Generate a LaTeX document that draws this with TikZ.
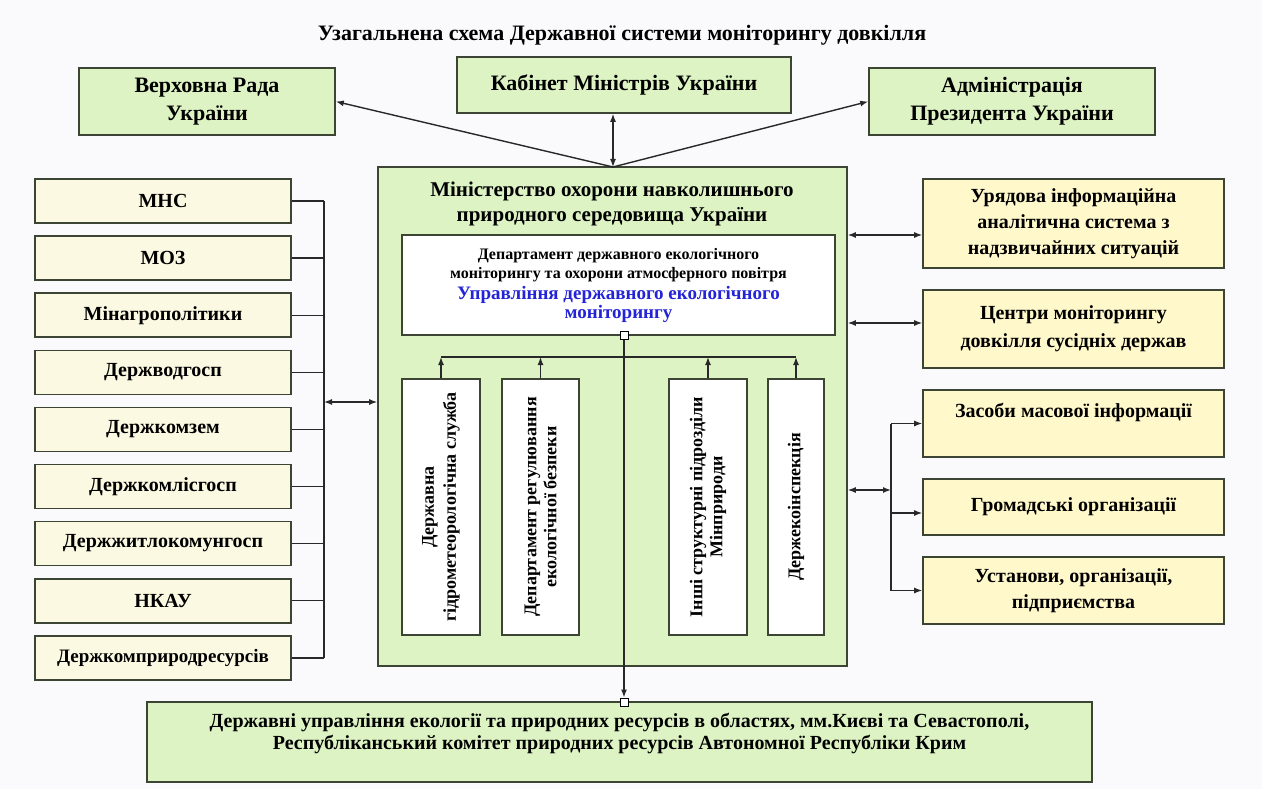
\documentclass[tikz,border=0pt]{standalone}
\usepackage{fontspec}
\setmainfont{Liberation Serif}
\usetikzlibrary{arrows.meta,positioning}

\definecolor{bgcol}{RGB}{250,250,252}
\definecolor{greenfill}{RGB}{221,243,196}
\definecolor{creamfill}{RGB}{252,249,226}
\definecolor{yellowfill}{RGB}{255,248,202}
\definecolor{boxline}{RGB}{60,68,52}
\definecolor{linkcol}{RGB}{40,40,40}
\definecolor{deptblue}{RGB}{35,35,215}

\begin{document}
\begin{tikzpicture}[
    x=1pt, y=-1pt,
    box/.style={
        rectangle,
        draw=boxline,
        line width=1.6pt,
        fill=#1,
        inner sep=2pt,
        align=center,
        font=\fontsize{20}{26}\selectfont\bfseries
    },
    lbox/.style={
        box=creamfill,
        minimum width=256pt,
        minimum height=44pt,
        font=\fontsize{20}{22}\selectfont\bfseries
    },
    rbox/.style={
        box=yellowfill,
        minimum width=301pt,
        minimum height=#1
    },
    vbox/.style={
        box=white,
        rotate=90,
        minimum width=256pt,
        minimum height=#1,
        font=\fontsize{18}{20}\selectfont\bfseries
    },
    sq/.style={
        rectangle,
        draw=black,
        fill=white,
        line width=1pt,
        minimum size=8pt,
        inner sep=0pt
    },
    link/.style={
        line width=1.4pt,
        draw=linkcol
    },
    arrow/.style={
        link,
        -{Latex[length=8pt,width=6pt]}
    },
    biarrow/.style={
        link,
        {Latex[length=8pt,width=6pt]}-{Latex[length=8pt,width=6pt]}
    }
]

\useasboundingbox (0,0) rectangle (1262,789);
\fill[bgcol] (0,0) rectangle (1262,789);

% Title
\node[font=\fontsize{22}{26}\selectfont\bfseries] (title) at (622,35)
    {Узагальнена схема Державної системи моніторингу довкілля};

% Top level
\node[box=greenfill, minimum width=256pt, minimum height=67pt, font=\fontsize{22}{28}\selectfont\bfseries]
    (vr) at (207,101.5) {Верховна Рада\\України};
\node[box=greenfill, minimum width=334pt, minimum height=56pt, font=\fontsize{22}{28}\selectfont\bfseries]
    (km) at (624,85) {Кабінет Міністрів України};
\node[box=greenfill, minimum width=286pt, minimum height=67pt, font=\fontsize{22}{28}\selectfont\bfseries]
    (ap) at (1012,101.5) {Адміністрація\\Президента України};

% Ministry
\node[box=greenfill, minimum width=469pt, minimum height=499pt] (min) at (612.5,416.5) {};
\node[font=\fontsize{21}{25}\selectfont\bfseries, align=center] (mintitle) at (612,204)
    {Міністерство охорони навколишнього\\природного середовища України};

% Department
\node[box=white, minimum width=433pt, minimum height=100pt, font=\fontsize{16}{19}\selectfont\bfseries]
    (dept) at (618.5,285) {
    Департамент державного екологічного\\
    моніторингу та охорони атмосферного повітря\\[2pt]
    {\color{deptblue}\fontsize{19}{22}\selectfont Управління державного екологічного}\\
    {\color{deptblue}\fontsize{19}{22}\selectfont моніторингу}
};
\node[sq] (sq1) at (624,335) {};

% Vertical units
\node[vbox=78pt, font=\fontsize{18}{22}\selectfont\bfseries] (v1) at (441,507) {Державна\\гідрометеорологічна служба};
\node[vbox=77pt] (v2) at (540.5,507) {Департамент регулювання\\екологічної безпеки};
\node[vbox=78pt] (v3) at (708,507) {Інші структурні підрозділи\\Мінприроди};
\node[vbox=56pt] (v4) at (796,507) {Держекоінспекція};

\coordinate (bus) at (624,357);
\draw[link] (v1.east |- bus) -- (v4.east |- bus);
\draw[arrow] (v1.east) -- (v1.east |- bus);
\draw[arrow] (v2.east) -- (v2.east |- bus);
\draw[arrow] (v3.east) -- (v3.east |- bus);
\draw[arrow] (v4.east) -- (v4.east |- bus);

% Regional offices
\node[box=greenfill, minimum width=945pt, minimum height=80pt, font=\fontsize{20}{22}\selectfont\bfseries]
    (bot) at (619.5,742) {
    Державні управління екології та природних ресурсів в областях, мм.Києві та Севастополі,\\
    Республіканський комітет природних ресурсів Автономної Республіки Крим\\
    \mbox{}
};
\node[sq] (sq2) at (624,702) {};
\draw[arrow] (sq1.south) -- (sq2.north);

% Links to the top
\coordinate (mtop) at (613,167);
\draw[biarrow] (mtop |- km.south) -- (mtop);
\draw[arrow] (mtop) -- (vr.east);
\draw[arrow] (mtop) -- (ap.west);

% Left column
\node[lbox] (mns) at (163,201) {МНС};
\node[lbox, below=11.5pt of mns] (moz) {МОЗ};
\node[lbox, below=11.5pt of moz] (mag) {Мінагрополітики};
\node[lbox, below=11.5pt of mag] (dvg) {Держводгосп};
\node[lbox, below=11.5pt of dvg] (dkz) {Держкомзем};
\node[lbox, below=11.5pt of dkz] (dkl) {Держкомлісгосп};
\node[lbox, below=11.5pt of dkl] (dzk) {Держжитлокомунгосп};
\node[lbox, below=11.5pt of dzk] (nkau) {НКАУ};
\node[lbox, below=11.5pt of nkau, font=\fontsize{19}{22}\selectfont\bfseries] (dkpr) {Держкомприродресурсів};

\coordinate (lbus) at (324,402);
\draw[link] (mns.east -| lbus) -- (dkpr.east -| lbus);
\draw[link] (mns.east) -- (mns.east -| lbus);
\draw[link] (moz.east) -- (moz.east -| lbus);
\draw[link] (mag.east) -- (mag.east -| lbus);
\draw[link] (dvg.east) -- (dvg.east -| lbus);
\draw[link] (dkz.east) -- (dkz.east -| lbus);
\draw[link] (dkl.east) -- (dkl.east -| lbus);
\draw[link] (dzk.east) -- (dzk.east -| lbus);
\draw[link] (nkau.east) -- (nkau.east -| lbus);
\draw[link] (dkpr.east) -- (dkpr.east -| lbus);
\draw[biarrow] (lbus) -- (lbus -| min.west);

% Right column
\node[rbox=89pt] (ur) at (1073.5,223.5)
    {Урядова інформаційна\\аналітична система з\\надзвичайних ситуацій};
\node[rbox=78pt, font=\fontsize{20}{28}\selectfont\bfseries] (cm) at (1073.5,329)
    {Центри моніторингу\\довкілля сусідніх держав};
\node[rbox=67pt] (zmi) at (1073.5,423.5) {Засоби масової інформації\\\mbox{}};
\node[rbox=56pt] (go) at (1073.5,507) {Громадські організації};
\node[rbox=67pt] (ust) at (1073.5,590.5) {Установи, організації,\\підприємства};

\coordinate (urin) at ([yshift=-11.5pt]ur.west);
\coordinate (cmin) at ([yshift=6pt]cm.west);
\draw[biarrow] (urin -| min.east) -- (urin);
\draw[biarrow] (cmin -| min.east) -- (cmin);

\coordinate (rbus) at (891,490);
\coordinate (goin) at ([yshift=-6pt]go.west);
\draw[biarrow] (rbus -| min.east) -- (rbus);
\draw[link] (zmi.west -| rbus) -- (ust.west -| rbus);
\draw[arrow] (zmi.west -| rbus) -- (zmi.west);
\draw[arrow] (goin -| rbus) -- (goin);
\draw[arrow] (ust.west -| rbus) -- (ust.west);

\end{tikzpicture}
\end{document}
